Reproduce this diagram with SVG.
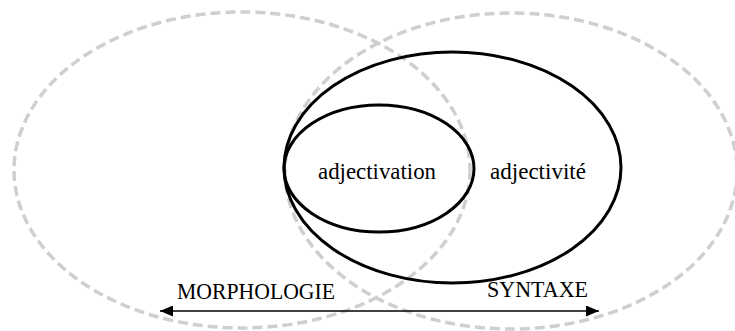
<svg xmlns="http://www.w3.org/2000/svg" width="735" height="331" viewBox="0 0 735 331">
<style>
.dash{fill:none;stroke:#cfcfcf;stroke-width:3.5;stroke-dasharray:10 5}
.solid{fill:none;stroke:#000;stroke-width:3}
.lbl{font-family:"Liberation Serif","Times New Roman",serif;fill:#000;font-size:22.5px}
</style>
<defs>
<marker id="ah" viewBox="0 0 10 10" refX="10" refY="5" markerWidth="13" markerHeight="11" markerUnits="userSpaceOnUse" orient="auto-start-reverse" preserveAspectRatio="none">
<path d="M0,0 L10,5 L0,10 Z" fill="#000"/>
</marker>
</defs>
<rect width="735" height="331" fill="#fff"/>
<g id="morphologie-zone"><ellipse class="dash" cx="242" cy="170" rx="228" ry="158"/></g>
<g id="syntaxe-zone"><ellipse class="dash" cx="511" cy="171" rx="226" ry="158"/></g>
<g id="adjectivite"><ellipse class="solid" cx="452.5" cy="167.5" rx="168.5" ry="115.5"/>
<text class="lbl" x="490" y="179" textLength="96" lengthAdjust="spacingAndGlyphs">adjectivité</text></g>
<g id="adjectivation"><ellipse class="solid" cx="379" cy="168.5" rx="95" ry="63.5"/>
<text class="lbl" x="318" y="179" textLength="118" lengthAdjust="spacingAndGlyphs">adjectivation</text></g>
<g id="connectors">
<line x1="160" y1="311" x2="599" y2="311" stroke="#000" stroke-width="1.5" marker-start="url(#ah)" marker-end="url(#ah)"/>
</g>
<g id="axis-labels">
<text class="lbl" x="177" y="299" textLength="158" lengthAdjust="spacingAndGlyphs">MORPHOLOGIE</text>
<text class="lbl" x="487" y="297" textLength="101" lengthAdjust="spacingAndGlyphs">SYNTAXE</text>
</g>
</svg>
